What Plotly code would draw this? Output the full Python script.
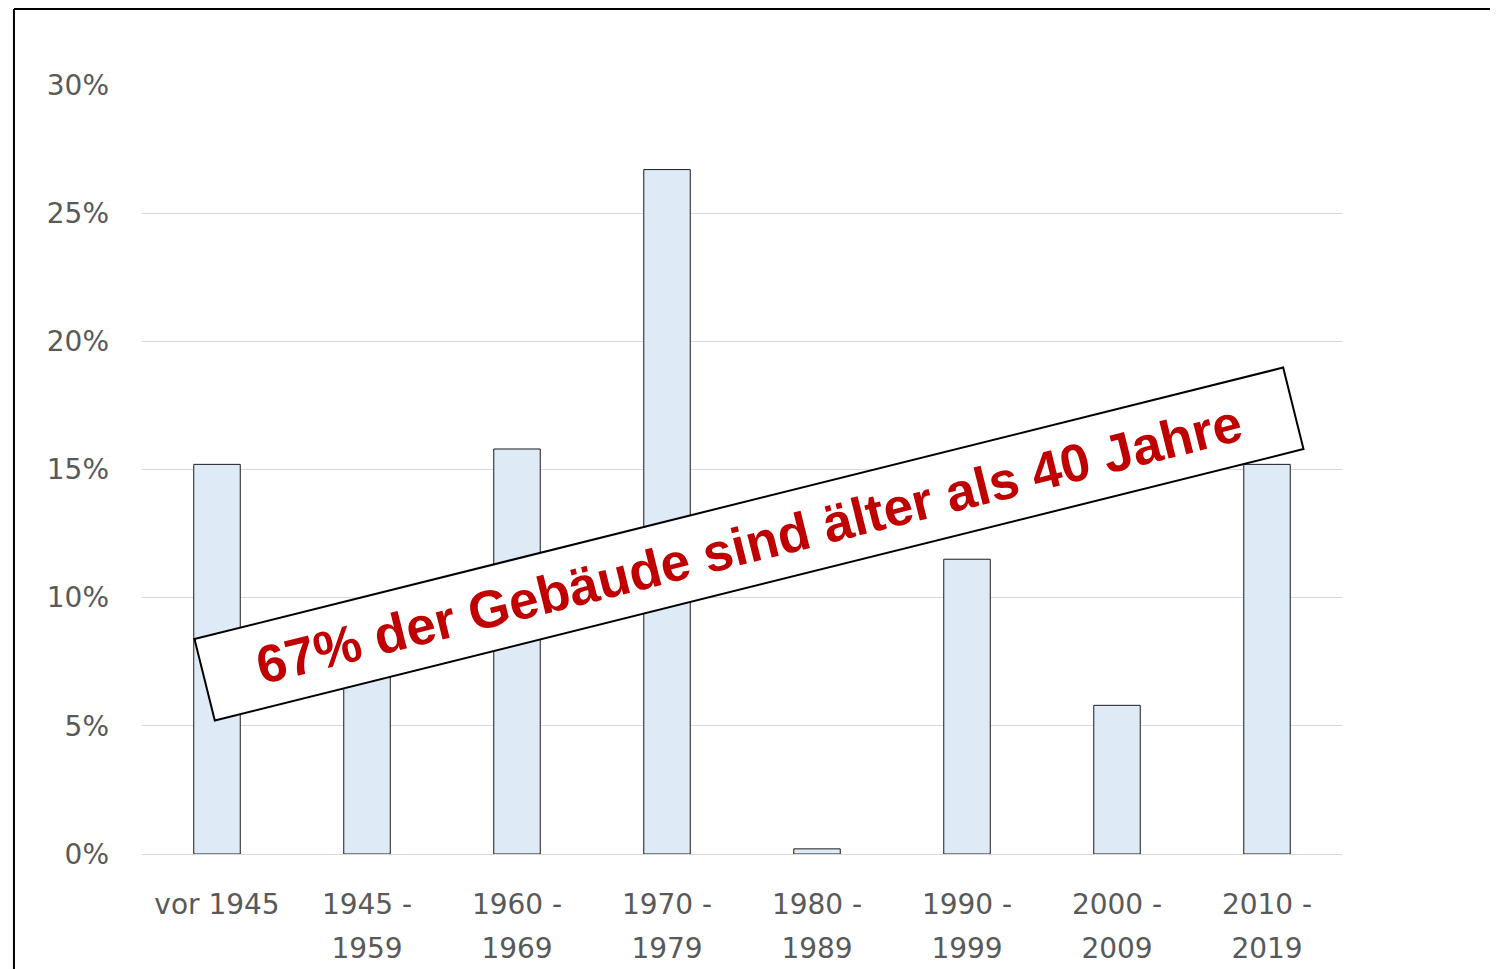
import plotly.graph_objects as go

categories = ["vor 1945", "1945 - 1959", "1960 - 1969", "1970 - 1979",
              "1980 - 1989", "1990 - 1999", "2000 - 2009", "2010 - 2019"]
x_tick_labels = ["vor 1945", "1945 -<br>1959", "1960 -<br>1969", "1970 -<br>1979",
                 "1980 -<br>1989", "1990 -<br>1999", "2000 -<br>2009", "2010 -<br>2019"]
shares = [0.152, 0.094, 0.158, 0.267, 0.002, 0.115, 0.058, 0.152]
y_ticks = [0, 0.05, 0.10, 0.15, 0.20, 0.25, 0.30]
y_tick_labels = ["0%", "5%", "10%", "15%", "20%", "25%", "30%"]
note = "67% der Gebäude sind älter als 40 Jahre"

fig = go.Figure(go.Bar(
    x=categories, y=shares,
    width=0.31,
    marker=dict(color="#DEEBF7", line=dict(color="#1a1a1a", width=1)),
    hoverinfo="skip",
))

tick_font = dict(family="DejaVu Sans, sans-serif", size=28, color="#595959")
x_tick_font = dict(family="DejaVu Sans, sans-serif", size=34, color="#595959")

def small(label):
    return "<br>".join('<span style="font-size:28px">' + part + "</span>"
                       for part in label.split("<br>"))

fig.update_layout(
    width=1498, height=969,
    margin=dict(l=134, r=164, t=77, b=123, autoexpand=False),
    paper_bgcolor="white", plot_bgcolor="white",
    showlegend=False,
    xaxis=dict(
        tickmode="array", tickvals=categories,
        ticktext=[small(t) for t in x_tick_labels],
        tickfont=x_tick_font, showgrid=False, zeroline=False,
        showline=True, linecolor="#D9D9D9", linewidth=1,
        ticks="", ticklabelstandoff=18, automargin=False,
    ),
    yaxis=dict(
        range=[0, 0.30], tickvals=y_ticks, ticktext=y_tick_labels,
        tickfont=tick_font, showgrid=True, gridcolor="#D9D9D9", gridwidth=1,
        zeroline=False, showline=False, ticks="", ticklabelstandoff=32,
        automargin=False,
    ),
    annotations=[dict(
        xref="paper", yref="paper", x=0.506, y=0.403,
        text="<b>" + note + "</b>", showarrow=False,
        textangle=-14,
        font=dict(family="Liberation Sans, Arial, sans-serif", size=53, color="#C00000"),
        bgcolor="white", bordercolor="black", borderwidth=2, borderpad=0,
        width=1120, height=82, align="center", valign="middle",
    )],
    shapes=[
        dict(type="line", xref="paper", yref="paper",
             x0=-0.1067, x1=-0.1067, y0=-0.2, y1=1.0988,
             line=dict(color="black", width=2)),
        dict(type="line", xref="paper", yref="paper",
             x0=-0.1067, x1=1.2, y0=1.0988, y1=1.0988,
             line=dict(color="black", width=2)),
    ],
)

fig.write_html("out.html")
